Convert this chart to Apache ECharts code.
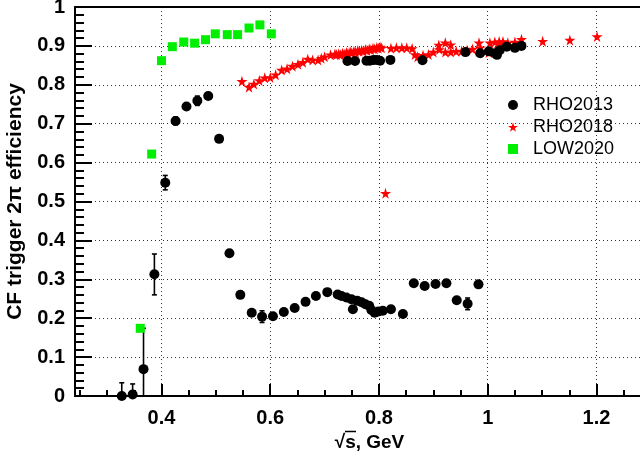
<!DOCTYPE html>
<html>
<head>
<meta charset="utf-8">
<script src="https://cdn.jsdelivr.net/npm/echarts@6/dist/echarts.min.js"></script>
<style>
html,body{margin:0;padding:0;background:#fff;}
#chart{width:640px;height:457px;}
</style>
</head>
<body>
<div id="chart"></div>
<script>
// ---- data ----
var rho2013X = [0.327,0.347,0.367,0.387,0.407,0.426,0.446,0.466,0.486,0.506,0.525,0.545,0.566,0.585,0.605,0.625,0.645,0.665,0.684,0.705,0.724,0.731,0.740,0.749,0.752,0.760,0.768,0.775,0.782,0.786,0.792,0.799,0.807,0.822,0.844,0.864,0.884,0.904,0.924,0.943,0.963,0.983,
  0.742,0.756,0.777,0.783,0.790,0.796,0.802,0.821,0.880,0.959,0.986,1.002,1.013,1.017,1.022,1.035,1.050,1.062];
var rho2013Y = [0.000,0.004,0.069,0.313,0.548,0.707,0.744,0.759,0.771,0.661,0.367,0.260,0.214,0.204,0.205,0.216,0.226,0.242,0.257,0.267,0.261,0.257,0.253,0.249,0.223,0.245,0.241,0.236,0.232,0.221,0.214,0.217,0.219,0.223,0.211,0.290,0.283,0.288,0.290,0.246,0.237,0.287,
  0.861,0.861,0.862,0.862,0.864,0.864,0.862,0.864,0.863,0.884,0.881,0.886,0.881,0.877,0.889,0.898,0.895,0.900];
var rho2013ErrLo = [0,0,0.069,0.053,0.018,0.010,0,0.012,0,0,0,0,0,0.015,0,0,0,0,0,0,0,0,0,0,0,0,0,0,0,0,0,0,0,0,0,0,0,0,0,0,0.015,0,
  0,0,0,0,0,0,0,0,0,0,0,0,0,0,0,0,0,0];
var rho2013ErrHi = [0.034,0.027,0.105,0.052,0.019,0.010,0,0.012,0,0,0,0,0,0.015,0,0,0,0,0,0,0,0,0,0,0,0,0,0,0,0,0,0,0,0,0,0,0,0,0,0,0.015,0,
  0,0,0,0,0,0,0,0,0,0,0,0,0,0,0,0,0,0];

var rho2018X = [0.548,0.561,0.570,0.580,0.590,0.600,0.610,0.621,0.631,0.641,0.651,0.660,0.669,0.678,0.688,0.694,0.700,0.711,0.719,
  0.722,0.726,0.729,0.733,0.736,0.740,0.743,0.747,0.750,0.754,0.757,0.761,0.764,0.768,0.771,0.775,0.778,0.782,0.785,0.789,0.792,0.796,0.799,0.802,0.805,
  0.812,0.822,0.832,0.842,0.851,0.861,0.866,0.871,0.881,0.891,0.900,0.910,0.911,0.922,0.922,0.932,0.932,0.942,0.952,0.962,0.972,0.984,0.986,1.002,1.004,1.013,1.021,1.021,1.028,1.037,1.050,1.062,1.101,1.151,1.201];
var rho2018Y = [0.809,0.794,0.802,0.811,0.818,0.819,0.826,0.838,0.841,0.848,0.853,0.858,0.866,0.864,0.864,0.868,0.872,0.877,0.879,
  0.878,0.880,0.877,0.881,0.879,0.883,0.881,0.885,0.883,0.886,0.884,0.888,0.886,0.889,0.887,0.891,0.889,0.892,0.890,0.894,0.892,0.896,0.894,0.897,0.895,
  0.521,0.894,0.895,0.895,0.895,0.893,0.878,0.872,0.876,0.878,0.884,0.902,0.891,0.908,0.884,0.903,0.884,0.886,0.887,0.889,0.892,0.908,0.895,0.883,0.908,0.910,0.911,0.894,0.911,0.908,0.910,0.917,0.912,0.915,0.924];

var low2020X = [0.361,0.382,0.400,0.420,0.441,0.461,0.481,0.499,0.521,0.540,0.561,0.581,0.602];
var low2020Y = [0.174,0.622,0.862,0.898,0.910,0.907,0.916,0.931,0.929,0.929,0.946,0.954,0.931];

var xMajorTicks = [0.4,0.6,0.8,1.0,1.2];
var xMinorTicks = [0.25,0.3,0.35,0.45,0.5,0.55,0.65,0.7,0.75,0.85,0.9,0.95,1.05,1.1,1.15,1.25];
var seriesNames = ['RHO2013','RHO2018','LOW2020'];

// ---- build ----
function zip(xs, ys){ return xs.map(function(x,i){ return [x, ys[i]]; }); }
var errData = [];
rho2013X.forEach(function(x,i){
  if (rho2013ErrLo[i] > 0 || rho2013ErrHi[i] > 0) {
    errData.push([x, rho2013Y[i]-rho2013ErrLo[i], rho2013Y[i]+rho2013ErrHi[i]]);
  }
});

var starPath = 'path://M50,0 L61,35 L98,35 L68,57 L79,91 L50,70 L21,91 L32,57 L2,35 L39,35 Z';
var FONT = '"Liberation Sans", Arial, Helvetica, sans-serif';
var X_MIN = 0.241, X_MAX = 1.28;
var gridDots = {show:true, lineStyle:{color:'#333', width:1, type:[1,3]}};

var chart = echarts.init(document.getElementById('chart'), null, {renderer:'canvas'});
chart.setOption({
  animation:false,
  backgroundColor:'#fff',
  grid:{left:75, right:0, top:7, bottom:61, containLabel:false, outerBoundsMode:'none'},
  legend:{
    data:[
      {name:seriesNames[0], icon:'circle', itemStyle:{color:'#000'}},
      {name:seriesNames[1], icon:starPath, itemStyle:{color:'#ff0000'}},
      {name:seriesNames[2], icon:'rect', itemStyle:{color:'#00ee00'}}
    ],
    orient:'vertical', left:503, top:90, itemWidth:10, itemHeight:10, itemGap:2,
    textStyle:{fontFamily:FONT, fontSize:18, lineHeight:20, color:'#000', padding:[0,0,0,10]}
  },
  xAxis:[
    {type:'value', min:X_MIN, max:X_MAX, position:'bottom',
     name:'\u221As, GeV', nameLocation:'middle', nameGap:33,
     nameTextStyle:{fontFamily:FONT, fontSize:19, fontWeight:'bold', color:'#000', padding:[0,0,0,24]},
     axisLine:{show:true, onZero:false, lineStyle:{color:'#000', width:2}},
     axisTick:{show:true, inside:true, length:12, customValues:xMajorTicks, lineStyle:{color:'#000', width:2}},
     axisLabel:{show:true, customValues:xMajorTicks, margin:12, fontFamily:FONT, fontSize:20, fontWeight:'bold', color:'#000',
       formatter:function(v){ return String(Math.round(v*10)/10); }},
     splitLine:gridDots, minorTick:{show:false}},
    {type:'value', min:X_MIN, max:X_MAX, position:'bottom',
     axisLine:{show:false}, axisLabel:{show:false}, splitLine:{show:false},
     axisTick:{show:true, inside:true, length:6, customValues:xMinorTicks, lineStyle:{color:'#000', width:2}}},
    {type:'value', min:X_MIN, max:X_MAX, position:'top',
     axisLine:{show:true, onZero:false, lineStyle:{color:'#000', width:2}},
     axisTick:{show:false}, axisLabel:{show:false}, splitLine:{show:false}}
  ],
  yAxis:[
    {type:'value', min:0, max:1, interval:0.1, position:'left',
     name:'CF trigger 2\u03C0 efficiency', nameLocation:'middle', nameGap:39, nameRotate:90,
     nameTextStyle:{fontFamily:FONT, fontSize:21, fontWeight:'bold', color:'#000', padding:[0,0,10,0]},
     axisLine:{show:true, onZero:false, lineStyle:{color:'#000', width:2}},
     axisTick:{show:true, inside:true, length:17, lineStyle:{color:'#000', width:2}},
     minorTick:{show:true, splitNumber:5, length:9, lineStyle:{color:'#000', width:2}},
     axisLabel:{margin:10, fontFamily:FONT, fontSize:20, fontWeight:'bold', color:'#000',
       formatter:function(v){ return String(Math.round(v*10)/10); }},
     splitLine:gridDots}
  ],
  graphic:[
    {type:'line', shape:{x1:345, y1:431.5, x2:356, y2:431.5}, style:{stroke:'#000', lineWidth:1.5}, silent:true}
  ],
  series:[
    {name:seriesNames[1], type:'scatter', data:zip(rho2018X, rho2018Y), symbol:starPath, symbolSize:11,
     itemStyle:{color:'#ff0000', opacity:1}, z:2},
    {name:'RHO2013 errors', type:'custom', data:errData, z:3,
     renderItem:function(params, api){
       var x = api.value(0), lo = api.value(1), hi = api.value(2);
       var p1 = api.coord([x, lo]), p2 = api.coord([x, hi]);
       var st = {stroke:'#000', lineWidth:1.6};
       return {type:'group', children:[
         {type:'line', shape:{x1:p1[0], y1:p1[1], x2:p2[0], y2:p2[1]}, style:st},
         {type:'line', shape:{x1:p1[0]-2.5, y1:p1[1], x2:p1[0]+2.5, y2:p1[1]}, style:st},
         {type:'line', shape:{x1:p2[0]-2.5, y1:p2[1], x2:p2[0]+2.5, y2:p2[1]}, style:st}
       ]};
     }},
    {name:seriesNames[0], type:'scatter', data:zip(rho2013X, rho2013Y), symbol:'circle', symbolSize:10,
     itemStyle:{color:'#000', opacity:1}, z:4, clip:false},
    {name:seriesNames[2], type:'scatter', data:zip(low2020X, low2020Y), symbol:'rect', symbolSize:9,
     itemStyle:{color:'#00ee00', opacity:1}, z:5}
  ]
});
</script>
</body>
</html>
